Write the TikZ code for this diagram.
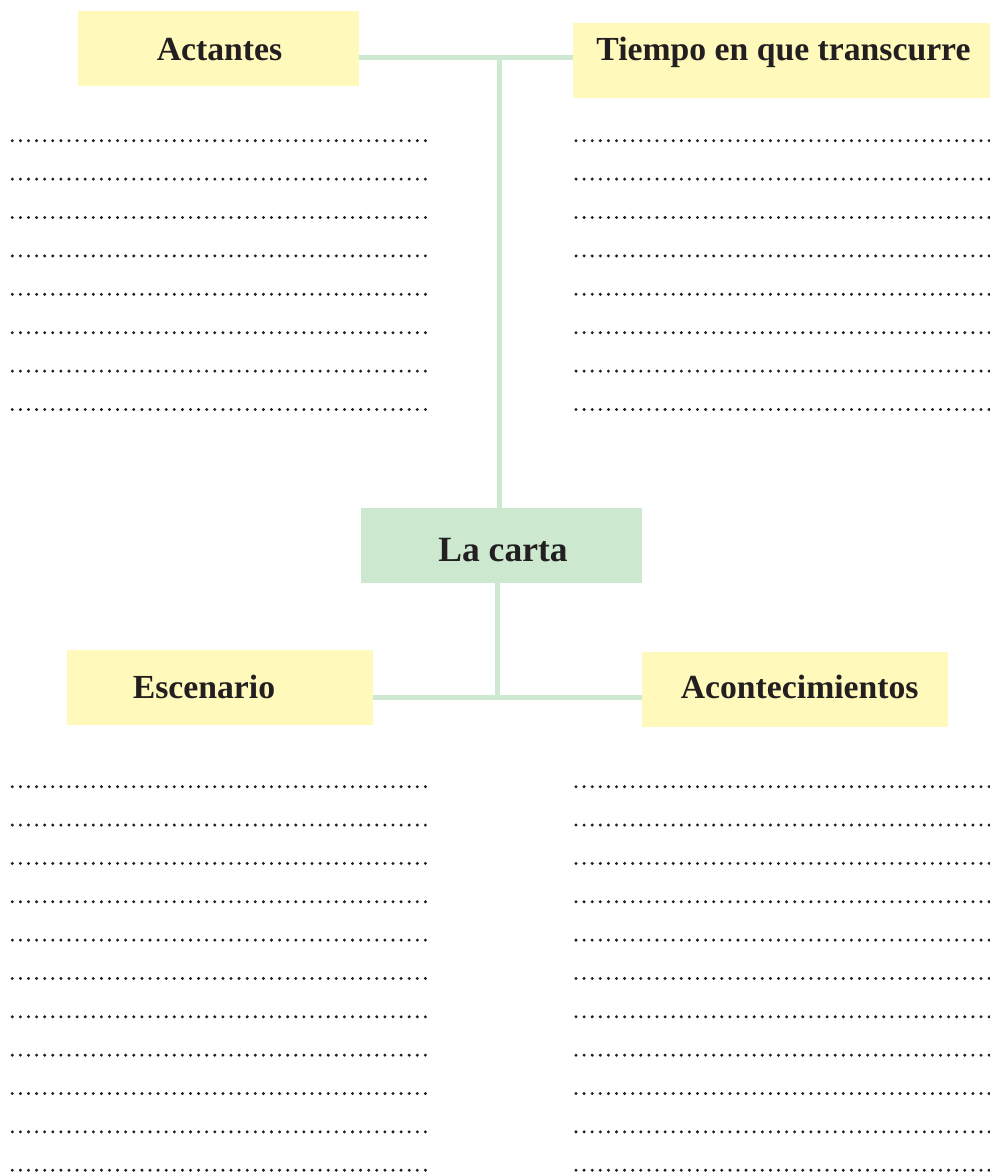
\documentclass[tikz,border=0pt]{standalone}
\usepackage{fontspec}
\setmainfont{Liberation Serif}
\definecolor{boxyellow}{HTML}{FFF9BB}
\definecolor{boxgreen}{HTML}{CCE8CE}
\definecolor{linkgreen}{HTML}{CDE9D1}
\definecolor{ink}{HTML}{231F20}
\tikzset{
  ybox/.style={fill=boxyellow, draw=none, inner sep=0pt, minimum width=#1},
  gbox/.style={fill=boxgreen, draw=none, inner sep=0pt},
  headtext/.style={anchor=base, inner sep=0pt, text=ink, font=\fontsize{33.7}{40}\selectfont\bfseries},
  maintext/.style={anchor=base, inner sep=0pt, text=ink, font=\fontsize{35.5}{42}\selectfont\bfseries},
  link/.style={draw=linkgreen, line width=5pt},
  dotrow/.style={draw=ink, line width=3.3pt, line cap=round, dash pattern=on 0pt off 8.1pt}
}
\begin{document}
\begin{tikzpicture}[x=1pt, y=-1pt]
\useasboundingbox (0,0) rectangle (990,1172);

% boxes
\node[ybox=281pt, minimum height=74.5pt] (act) at (218.5,48.3) {};
\node[ybox=420pt, minimum height=75pt] (tie) at (783,60.5) {};
\node[gbox, minimum width=281pt, minimum height=75pt] (carta) at (501.5,545.5) {};
\node[ybox=305.5pt, minimum height=74.7pt] (esc) at (220,687.3) {};
\node[ybox=305.7pt, minimum height=74.7pt] (acon) at (794.8,689.3) {};

% labels
\node[headtext] (actT) at (219.5,60) {Actantes};
\node[headtext] (tieT) at (783.5,60) {Tiempo en que transcurre};
\node[maintext] (cartaT) at (503,561.7) {La carta};
\node[headtext] (escT) at (204,698.3) {Escenario};
\node[headtext] (aconT) at (799.7,698.3) {Acontecimientos};

% connectors
\coordinate (jt) at (499.5,57.5);
\coordinate (jb) at (497.5,697);
\draw[link] (act.east |- jt) -- (jt) -- (tie.west |- jt);
\draw[link] (jt) -- (jt |- carta.north);
\draw[link] (jb |- carta.south) -- (jb);
\draw[link] (esc.east |- jb) -- (acon.west |- jb);

% dotted writing lines
\foreach \i in {0,...,7}{
  \draw[dotrow] (12.3,{140.7+\i*38.4}) -- (425.5,{140.7+\i*38.4});
  \draw[dotrow] (576,{140.7+\i*38.4}) -- (997,{140.7+\i*38.4});
}
\foreach \i in {0,...,10}{
  \draw[dotrow] (12.3,{786.7+\i*38.35}) -- (425.5,{786.7+\i*38.35});
  \draw[dotrow] (576,{786.7+\i*38.35}) -- (997,{786.7+\i*38.35});
}
\end{tikzpicture}
\end{document}
